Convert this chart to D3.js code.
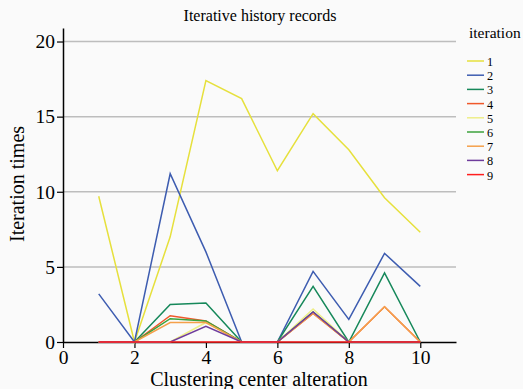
<!DOCTYPE html>
<html><head><meta charset="utf-8">
<script src="https://cdn.jsdelivr.net/npm/d3@7"></script>
<style>body{margin:0;background:#fafafa}svg{display:block}</style>
</head><body>
<svg id="c" width="523" height="389"></svg>
<script>
const xValues = [1,2,3,4,5,6,7,8,9,10];
const seriesNames = ["1","2","3","4","5","6","7","8","9"];
const s1 = [9.7,0,7.0,17.4,16.2,11.4,15.2,12.8,9.6,7.3];
const s2 = [3.2,0,11.2,6.0,0,0,4.7,1.5,5.9,3.7];
const s3 = [0,0,2.5,2.6,0,0,3.7,0,4.6,0];
const s4 = [0,0,1.75,1.4,0,0,1.9,0,2.35,0];
const s5 = [0,0,0,1.3,0,0,2.2,0,0,0];
const s6 = [0,0,1.55,1.4,0,0,2.0,0,0,0];
const s7 = [0,0,1.3,1.3,0,0,1.9,0,2.35,0];
const s8 = [0,0,0,1.05,0,0,2.0,0,0,0];
const s9 = [0,0,0,0,0,0,0,0,0,0];
const allSeries = [s1,s2,s3,s4,s5,s6,s7,s8,s9];
const colors = ["#e6e03c","#3d5cb0","#16885a","#f0582a","#eeee88","#3ca23c","#f5a04a","#6e3c9c","#ff1e1e"];
const xTicks = [0,2,4,6,8,10];
const yTicks = [0,5,10,15,20];

const svg = d3.select("#c");
const serif = "'Liberation Serif','DejaVu Serif',serif";
const x = d3.scaleLinear().domain([0,11]).range([63,456]);
const y = d3.scaleLinear().domain([0,20.9]).range([342,28]);

// grid
svg.append("g").selectAll("line").data(yTicks.filter(d=>d>0)).join("line")
  .attr("x1",x(0)).attr("x2",x(11)).attr("y1",d=>y(d)).attr("y2",d=>y(d))
  .attr("stroke","#bdbdbd").attr("stroke-width",1.5);

const xa = svg.append("g").attr("transform",`translate(0,${y(0)})`)
  .call(d3.axisBottom(x).tickValues(xTicks).tickSize(6).tickSizeOuter(0).tickFormat(d3.format("d")));
const ya = svg.append("g").attr("transform",`translate(${x(0)},0)`)
  .call(d3.axisLeft(y).tickValues(yTicks).tickSize(6).tickSizeOuter(0));
[xa,ya].forEach(a=>{
  a.select(".domain").attr("stroke","#000").attr("stroke-width",1.5);
  a.selectAll(".tick line").attr("stroke","#000").attr("stroke-width",1.2);
  a.selectAll("text").attr("font-family",serif).attr("font-size",19.5).attr("fill","#000");
});
xa.selectAll("text").attr("dy","0.9em").attr("y",4);
ya.selectAll("text").attr("x",-8);

const line = d3.line().x((d,i)=>x(xValues[i])).y(d=>y(d));
svg.append("g").selectAll("path").data(allSeries).join("path")
  .attr("d",line).attr("fill","none").attr("stroke",(d,i)=>colors[i]).attr("stroke-width",1.5);

svg.append("text").attr("x",260).attr("y",21).attr("text-anchor","middle")
  .attr("font-family",serif).attr("font-size",16).text("Iterative history records");
svg.append("text").attr("x",259).attr("y",386).attr("text-anchor","middle")
  .attr("font-family",serif).attr("font-size",20).text("Clustering center alteration");
svg.append("text").attr("transform","translate(24,184) rotate(-90)").attr("text-anchor","middle")
  .attr("font-family",serif).attr("font-size",20).text("Iteration times");

const lg = svg.append("g");
lg.append("text").attr("x",469).attr("y",38).attr("font-family",serif).attr("font-size",15.5).text("iteration");
const items = lg.selectAll("g.it").data(seriesNames).join("g").attr("class","it")
  .attr("transform",(d,i)=>`translate(0,${61+i*14.2})`);
items.append("line").attr("x1",467).attr("x2",484).attr("stroke",(d,i)=>colors[i]).attr("stroke-width",1.5);
items.append("text").attr("x",487).attr("y",5).attr("font-family",serif).attr("font-size",12.3).text(d=>d);
</script>
</body></html>
